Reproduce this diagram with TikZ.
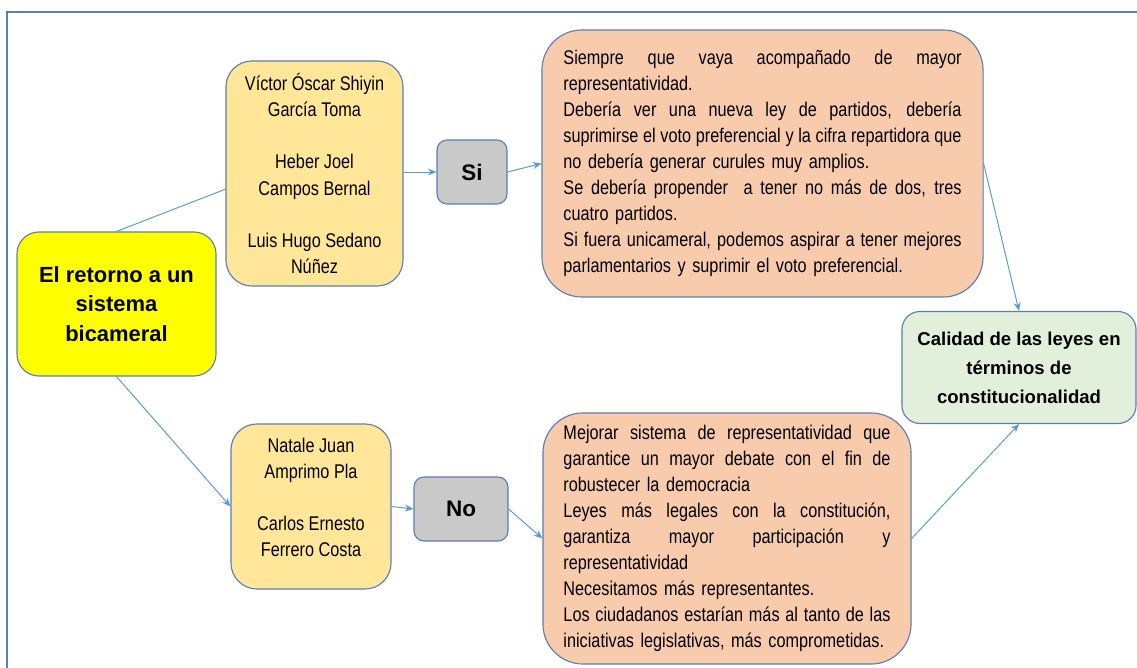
\documentclass[tikz,border=0pt]{standalone}
\usepackage{fontspec}
\setmainfont{Liberation Sans}
\newfontfamily\narrowfont[FakeStretch=0.82]{Liberation Sans}
\usetikzlibrary{arrows.meta}
\setlength{\parindent}{0pt}
\definecolor{boxline}{HTML}{5A7FB5}
\definecolor{linkblue}{HTML}{5B9BD5}
\definecolor{temayellow}{HTML}{FFFF00}
\definecolor{namefill}{HTML}{FFE699}
\definecolor{votefill}{HTML}{C9C9C9}
\definecolor{ideafill}{HTML}{F8CBAD}
\definecolor{goalfill}{HTML}{E2EFDA}
\newcommand{\jline}[1]{\makebox[\hsize][s]{\spaceskip=0pt\xspaceskip=0pt #1}}

\begin{document}
\begin{tikzpicture}[x=0.025cm, y=-0.025cm,
    card/.style={draw=boxline, line width=0.8pt, inner sep=0pt, align=center},
    namecard/.style={card, fill=namefill, rounded corners=0.65cm, font=\narrowfont\fontsize{14.1}{18.5}\selectfont},
    votecard/.style={card, fill=votefill, rounded corners=0.25cm, minimum height=1.6cm, font=\bfseries\fontsize{16}{20}\selectfont},
    ideacard/.style={card, fill=ideafill, rounded corners=1cm, align=left, font=\narrowfont\fontsize{14.1}{18.5}\selectfont},
    link/.style={draw=linkblue, line width=0.7pt, -{Stealth[length=6pt, width=5pt]}},
    frame/.style={draw=boxline, line width=1pt}]
  \path[fill=white, use as bounding box] (0,0) rectangle (1137,668);
  \draw[frame] (7,668) -- (7,12) -- (1137,12);

  \node[card, fill=temayellow, rounded corners=0.55cm, minimum width=4.975cm, minimum height=3.6cm,
        font=\bfseries\fontsize{15.6}{21}\selectfont] (tema) at (116.5,304)
    {El retorno a un\\sistema\\bicameral};

  \node[namecard, minimum width=4.425cm, minimum height=5.625cm] (siNames) at (314.5,173.5)
    {Víctor Óscar Shiyin\\García Toma\\[18.5pt]Heber Joel\\Campos Bernal\\[18.5pt]Luis Hugo Sedano\\Núñez};
  \node[namecard, minimum width=4cm, minimum height=4.125cm, text depth=13pt] (noNames) at (311,506.5)
    {Natale Juan\\Amprimo Pla\\[18.5pt]Carlos Ernesto\\Ferrero Costa};

  \node[votecard, minimum width=1.75cm] (si) at (472,172) {Si};
  \node[votecard, minimum width=2.35cm] (no) at (461,509) {No};

  \node[ideacard, minimum width=11.025cm, minimum height=6.675cm, text width=9.95cm] (ideaSi) at (762.5,163.5)
    {\jline{Siempre que vaya acompañado de mayor}\\
     representatividad.\\
     \jline{Debería ver una nueva ley de partidos, debería}\\
     \jline{suprimirse el voto preferencial y la cifra repartidora que}\\
     no debería generar curules muy amplios.\\
     \jline{Se debería propender\ \ a tener no más de dos, tres}\\
     cuatro partidos.\\
     \jline{Si fuera unicameral, podemos aspirar a tener mejores}\\
     parlamentarios y suprimir el voto preferencial.};
  \node[ideacard, minimum width=9.2cm, minimum height=6.275cm, text width=8.175cm] (ideaNo) at (727,538.5)
    {\jline{Mejorar sistema de representatividad que}\\
     \jline{garantice un mayor debate con el fin de}\\
     robustecer la democracia\\
     \jline{Leyes más legales con la constitución,}\\
     \jline{garantiza mayor participación y}\\
     representatividad\\
     Necesitamos más representantes.\\
     \jline{Los ciudadanos estarían más al tanto de las}\\
     iniciativas legislativas, más comprometidas.};

  \node[card, fill=goalfill, rounded corners=0.45cm, minimum width=5.85cm, minimum height=2.8cm,
        font=\bfseries\fontsize{13.2}{20.6}\selectfont] (calidad) at (1019,367.5)
    {Calidad de las leyes en\\términos de\\constitucionalidad};
  \coordinate (offRight) at (1160,362);

  \draw[draw=linkblue, line width=0.7pt] (tema.north) -- (siNames.190);
  \draw[link] (tema.south) -- (noNames.west);
  \draw[link] (siNames.east |- si.west) -- (si.west);
  \draw[link] (si.east) -- (ideaSi.west);
  \draw[link] (noNames.east) -- (no.west);
  \draw[link] (no.east) -- (ideaNo.west);
  \draw[link] (ideaSi.east) -- (calidad.north);
  \draw[link] (ideaNo.east) -- (calidad.south);
  \draw[link] (offRight) -- (calidad.east);
\end{tikzpicture}
\end{document}
